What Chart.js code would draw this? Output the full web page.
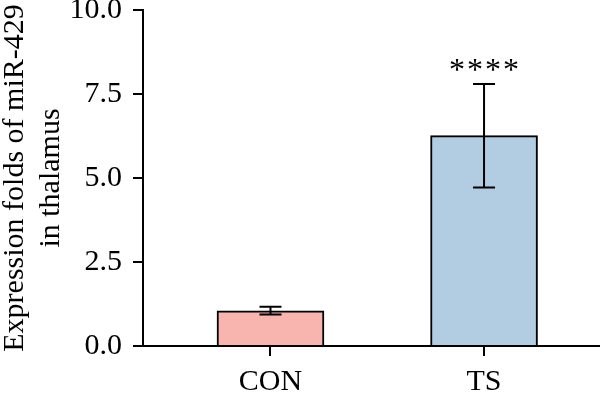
<!DOCTYPE html>
<html>
<head>
<meta charset="utf-8">
<script src="https://cdn.jsdelivr.net/npm/chart.js@4"></script>
<style>
  html, body { margin: 0; padding: 0; background: #fff; }
  #wrap { width: 600px; height: 394px; }
</style>
</head>
<body>
<div id="wrap"><canvas id="chart" width="600" height="394"></canvas></div>
<script>
// data
const categories = ["CON", "TS"];
const means = [1.05, 6.26];
const errors = [0.115, 1.54];
const signif = ["", "****"];
const yTicks = [0, 2.5, 5, 7.5, 10];
const barColors = ["#F8B4AE", "#B2CCE2"];

const FONT = "'Liberation Serif', 'Times New Roman', serif";

// error bars + significance stars
const errorBarPlugin = {
  id: "errorBars",
  afterDatasetsDraw(chart) {
    const ctx = chart.ctx;
    const xs = chart.scales.x;
    const ys = chart.scales.y;
    ctx.save();
    ctx.strokeStyle = "#000";
    ctx.lineWidth = 2;
    means.forEach((m, i) => {
      const cx = xs.getPixelForValue(i);
      const top = ys.getPixelForValue(m + errors[i]);
      const bot = ys.getPixelForValue(m - errors[i]);
      ctx.beginPath();
      ctx.moveTo(cx, top); ctx.lineTo(cx, bot);
      ctx.moveTo(cx - 11, top); ctx.lineTo(cx + 11, top);
      ctx.moveTo(cx - 11, bot); ctx.lineTo(cx + 11, bot);
      ctx.stroke();

      const label = signif[i];
      if (label) {
        ctx.fillStyle = "#000";
        ctx.font = "32px " + FONT;
        ctx.textAlign = "center";
        ctx.textBaseline = "middle";
        const n = label.length;
        for (let k = 0; k < n; k++) {
          ctx.fillText(label[k], cx + (k - (n - 1) / 2) * 18, top - 12);
        }
      }
    });
    ctx.restore();
  }
};

new Chart(document.getElementById("chart"), {
  type: "bar",
  data: {
    datasets: [{
      data: categories.map((c, i) => ({ x: i, y: means[i] })),
      backgroundColor: barColors,
      borderColor: "#000",
      borderWidth: 2,
      borderSkipped: "start",
      barThickness: 107
    }]
  },
  options: {
    responsive: false,
    animation: false,
    layout: { padding: { top: 10, right: 0, bottom: 0, left: 0 } },
    plugins: { legend: { display: false }, tooltip: { enabled: false } },
    scales: {
      x: {
        type: "linear",
        offset: false,
        min: -0.597,
        max: 1.543,
        afterBuildTicks(scale) {
          scale.ticks = categories.map((c, i) => ({ value: i }));
        },
        afterFit(scale) {
          scale.height = 48;
          scale.paddingLeft = 0;
          scale.paddingRight = 0;
        },
        border: { display: true, color: "#000", width: 2 },
        grid: { offset: false, drawOnChartArea: false, color: "#000", lineWidth: 2, tickLength: 10 },
        ticks: {
          color: "#000",
          padding: 8,
          maxRotation: 0,
          autoSkip: false,
          font: { family: FONT, size: 30 },
          callback: (v) => categories[v] ?? ""
        }
      },
      y: {
        min: 0,
        max: 10,
        afterBuildTicks(scale) {
          scale.ticks = yTicks.map(v => ({ value: v }));
        },
        afterFit(scale) {
          scale.width = 143;
          scale.paddingTop = 0;
          scale.paddingBottom = 0;
        },
        border: { display: true, color: "#000", width: 2 },
        grid: { drawOnChartArea: false, color: "#000", lineWidth: 2, tickLength: 10 },
        ticks: {
          color: "#000",
          padding: 11,
          font: { family: FONT, size: 30 },
          callback: (v) => Number(v).toFixed(1)
        },
        title: {
          display: true,
          text: ["Expression folds of miR-429", "in thalamus"],
          color: "#000",
          padding: { top: -3, bottom: 0 },
          font: { family: FONT, size: 30, lineHeight: 1.2 }
        }
      }
    }
  },
  plugins: [errorBarPlugin]
});
</script>
</body>
</html>
